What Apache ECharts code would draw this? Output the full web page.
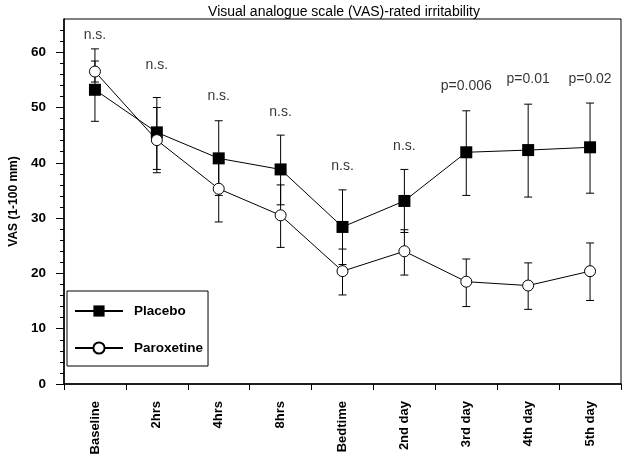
<!DOCTYPE html>
<html>
<head>
<meta charset="utf-8">
<script src="https://cdn.jsdelivr.net/npm/echarts@6/dist/echarts.min.js"></script>
<style>
html,body{margin:0;padding:0;background:#fff;}
#main{width:623px;height:459px;}
</style>
</head>
<body>
<div id="main"></div>
<script>
var categories = ['Baseline','2hrs','4hrs','8hrs','Bedtime','2nd day','3rd day','4th day','5th day'];
var placebo     = [53.2, 45.5, 40.8, 38.8, 28.4, 33.1, 41.9, 42.3, 42.8];
var placeboHigh = [60.6, 51.8, 47.6, 45.0, 35.1, 38.8, 49.4, 50.6, 50.8];
var placeboLow  = [47.5, 38.8, 34.1, 32.4, 21.6, 27.4, 34.1, 33.8, 34.5];
var paroxetine  = [56.5, 44.1, 35.3, 30.5, 20.4, 24.0, 18.5, 17.8, 20.4];
var paroxHigh   = [58.4, 50.0, 41.3, 36.0, 24.4, 27.9, 22.6, 21.9, 25.5];
var paroxLow    = [54.6, 38.2, 29.3, 24.7, 16.1, 19.7, 14.0, 13.5, 15.1];
var annotText   = ['n.s.','n.s.','n.s.','n.s.','n.s.','n.s.','p=0.006','p=0.01','p=0.02'];
var annotY      = [63.1, 57.6, 52.1, 49.1, 39.4, 43.0, 53.9, 55.2, 55.2];
var yMajorTicks = [0,10,20,30,40,50,60];
var yMinorTicks = [0,2,4,6,8,10,12,14,16,18,20,22,24,26,28,30,32,34,36,38,40,42,44,46,48,50,52,54,56,58,60,62,64];

var FONT = 'Liberation Sans, Arial, sans-serif';

function errData(low, high){
  return categories.map(function(c,i){ return [i, low[i], high[i]]; });
}
function errRender(params, api){
  var x = api.value(0);
  var lo = api.coord([x, api.value(1)]);
  var hi = api.coord([x, api.value(2)]);
  var hw = 4;
  var st = {stroke:'#000', lineWidth:1};
  return {type:'group', children:[
    {type:'line', shape:{x1:lo[0], y1:lo[1], x2:hi[0], y2:hi[1]}, style:st},
    {type:'line', shape:{x1:lo[0]-hw, y1:lo[1], x2:lo[0]+hw, y2:lo[1]}, style:st},
    {type:'line', shape:{x1:hi[0]-hw, y1:hi[1], x2:hi[0]+hw, y2:hi[1]}, style:st}
  ]};
}

var chart = echarts.init(document.getElementById('main'), null, {renderer:'canvas'});
chart.setOption({
  animation:false,
  backgroundColor:'#fff',
  title:{
    text:'Visual analogue scale (VAS)-rated irritability',
    left:339, textAlign:'center', top:0,
    textStyle:{fontFamily:FONT, fontSize:14, fontWeight:'normal', color:'#000'}
  },
  grid:{left:57, right:2, top:19, bottom:75, show:true, borderColor:'#000', borderWidth:1, backgroundColor:'transparent'},
  legend:{
    orient:'vertical', left:67, top:291,
    data:['Placebo','Paroxetine'],
    itemWidth:48, itemHeight:14, itemGap:23,
    padding:[13,5,11,7],
    borderColor:'#000', borderWidth:1, backgroundColor:'#fff',
    textStyle:{fontFamily:FONT, fontSize:13.5, fontWeight:'bold', color:'#000', padding:[0,0,0,6]}
  },
  xAxis:{
    type:'category', data:categories, boundaryGap:true,
    axisLine:{lineStyle:{color:'#000', width:1.5}},
    axisTick:{show:true, length:6, inside:false, lineStyle:{color:'#000'}},
    axisLabel:{rotate:90, margin:17, fontFamily:FONT, fontSize:13, fontWeight:'bold', color:'#000'},
    splitLine:{show:false}
  },
  yAxis:[{
    type:'value', min:0, max:66, interval:10,
    name:'VAS (1-100 mm)', nameLocation:'middle', nameGap:44,
    nameTextStyle:{fontFamily:FONT, fontSize:12, fontWeight:'bold', color:'#000'},
    axisLine:{show:true, lineStyle:{color:'#000', width:1.5}},
    axisTick:{show:true, length:8, customValues:yMajorTicks, lineStyle:{color:'#000'}},
    axisLabel:{margin:18, customValues:yMajorTicks, fontFamily:FONT, fontSize:13.5, fontWeight:'bold', color:'#000'},
    splitLine:{show:false}
  },{
    type:'value', min:0, max:66, interval:10, position:'left',
    axisLine:{show:false},
    axisTick:{show:true, length:4, customValues:yMinorTicks, lineStyle:{color:'#000'}},
    axisLabel:{show:false},
    splitLine:{show:false}
  }],
  series:[
    {name:'placeboErr', type:'custom', data:errData(placeboLow, placeboHigh), renderItem:errRender, encode:{x:0, y:[1,2]}, z:1, silent:true},
    {name:'paroxErr', type:'custom', data:errData(paroxLow, paroxHigh), renderItem:errRender, encode:{x:0, y:[1,2]}, z:1, silent:true},
    {name:'Placebo', type:'line', data:placebo, symbol:'rect', symbolSize:12,
      lineStyle:{color:'#000', width:1}, itemStyle:{color:'#000', borderColor:'#000', borderWidth:0}, z:3},
    {name:'Paroxetine', type:'line', data:paroxetine, symbol:'circle', symbolSize:11, showAllSymbol:true,
      lineStyle:{color:'#000', width:1}, itemStyle:{color:'#fff', borderColor:'#000', borderWidth:1}, z:4},
    {name:'annot', type:'scatter', data:annotY.map(function(v,i){return [i, v];}), symbolSize:1,
      itemStyle:{color:'rgba(0,0,0,0)'}, silent:true,
      label:{show:true, position:'inside', formatter:function(p){return annotText[p.dataIndex];},
        fontFamily:FONT, fontSize:14, color:'#000'}}
  ]
});
</script>
</body>
</html>
